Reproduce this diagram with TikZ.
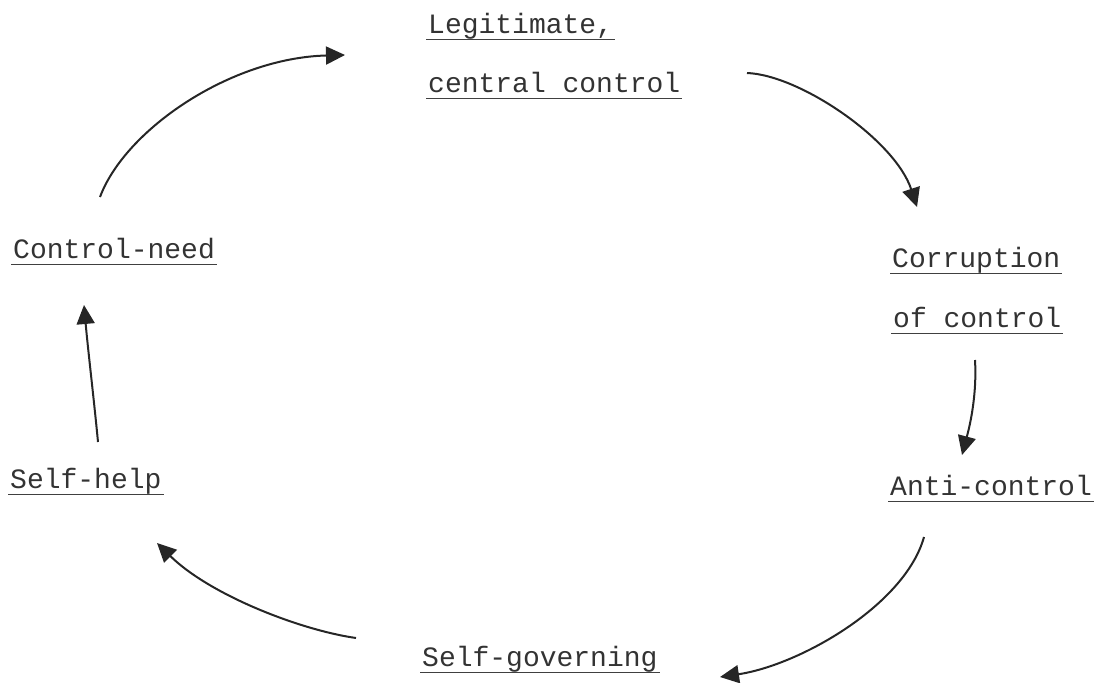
\documentclass[tikz,border=0pt]{standalone}
\usepackage{fontspec}
\newfontfamily\tw{Liberation Mono}
\usetikzlibrary{arrows.meta}
\begin{document}
\begin{tikzpicture}[x=1pt,y=-1pt,
  lbl/.style={anchor=base west, inner sep=0pt, font=\tw\fontsize{28}{30}\selectfont, text=black!80},
  ul/.style={line width=1pt, draw=black!75},
  arr/.style={line width=2pt, draw=black!85, -{Triangle[length=19pt,width=18pt,fill=black!85]}}]
\useasboundingbox (0,0) rectangle (1099,682);

\node[lbl] (leg)  at (428,34)  {Legitimate,};
\node[lbl] (cen)  at (428,93)  {central control};
\node[lbl] (cor)  at (892,267) {Corruption};
\node[lbl] (ofc)  at (893,327) {of control};
\node[lbl] (anti) at (890,495) {Anti-control};
\node[lbl] (sgov) at (422,666) {Self-governing};
\node[lbl] (shelp) at (10,488) {Self-help};
\node[lbl] (cneed) at (13,258) {Control-need};

\foreach \n in {leg,cen,cor,ofc,anti,sgov,shelp,cneed}
  \draw[ul] ([xshift=-2pt,yshift=-6pt]\n.base west) -- ([xshift=2pt,yshift=-6pt]\n.base east);

\coordinate (a1s) at (100,197); \coordinate (a1e) at (345,55);
\coordinate (a2s) at (747,73);  \coordinate (a2e) at (917,207);
\coordinate (a3s) at (975,360); \coordinate (a3e) at (962,455);
\coordinate (a4s) at (924,537); \coordinate (a4e) at (720,677);
\coordinate (a5s) at (356,638); \coordinate (a5e) at (157,543);
\coordinate (a6s) at (98,442);  \coordinate (a6e) at (84,305);

\draw[arr] (a1s) .. controls (125,130) and (230,58) .. (a1e);
\draw[arr] (a2s) .. controls (800,75) and (895,140) .. (a2e);
\draw[arr] (a3s) .. controls (977,395) and (970,425) .. (a3e);
\draw[arr] (a4s) .. controls (905,605) and (800,665) .. (a4e);
\draw[arr] (a5s) .. controls (300,630) and (210,595) .. (a5e);
\draw[arr] (a6s) .. controls (94,400) and (88,350) .. (a6e);
\end{tikzpicture}
\end{document}
